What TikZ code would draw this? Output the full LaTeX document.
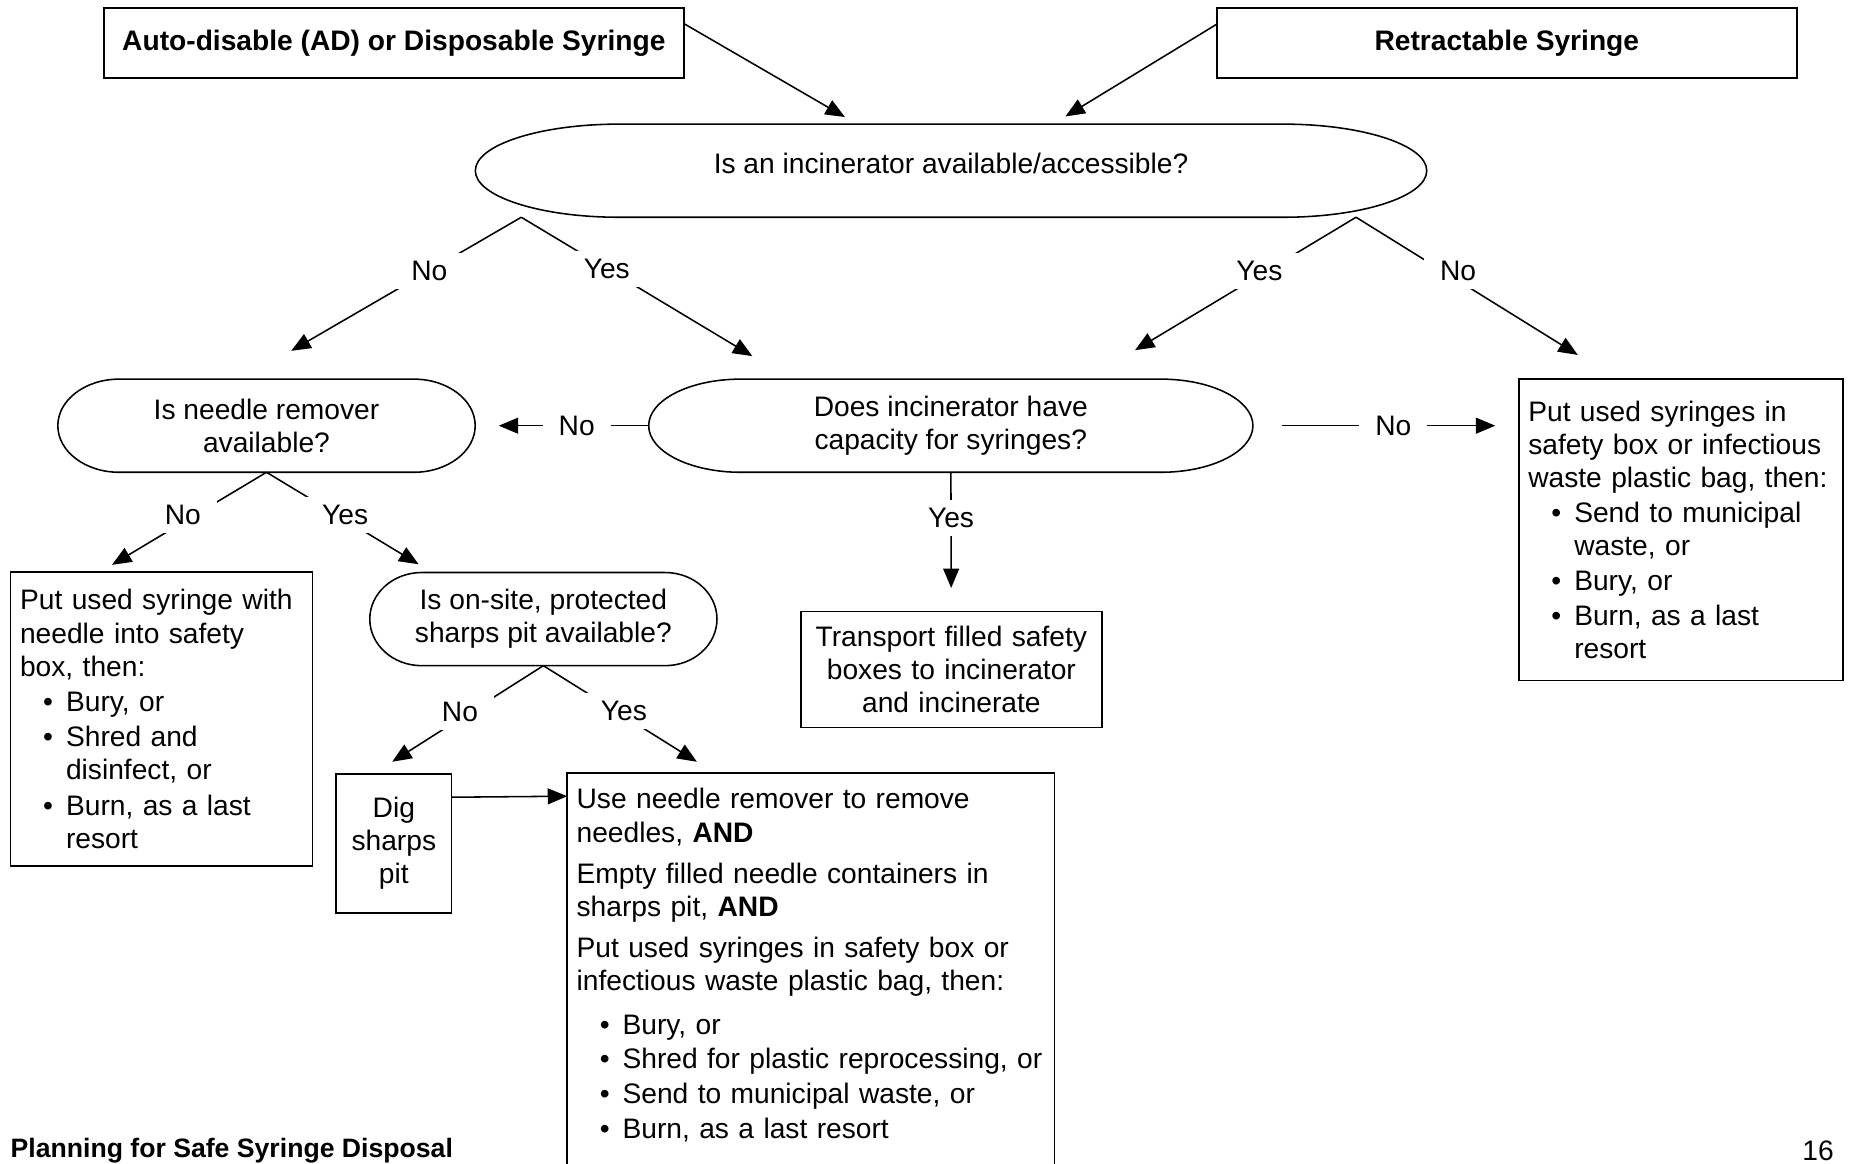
\documentclass[tikz,border=0pt]{standalone}
\usepackage{fontspec}
\setmainfont{Liberation Sans}
\usepackage{tikz}
\usetikzlibrary{arrows.meta, positioning, calc}

\newcommand{\bitem}{\hspace*{0.78cm}\llap{\textbullet\hspace{0.22cm}}}
\newcommand{\bcont}{\hspace*{0.78cm}}

\begin{document}
\begin{tikzpicture}[x=0.02cm, y=-0.02cm, line width=0.75pt,
    every node/.style={font=\fontsize{13.6}{15.94}\selectfont, outer sep=0pt},
    box/.style={draw, inner xsep=0.16cm, inner ysep=0pt},
    term/.style={minimum height=1.58cm, align=center, inner sep=0pt},
    ans/.style={fill=white, inner xsep=0.27cm, inner ysep=0.14cm},
    arr/.style={-{Triangle[length=0.33cm, width=0.27cm]}}]
  \useasboundingbox (0,0) rectangle (1568,987);

  % syringe types
  \node[box, minimum width=9.84cm, minimum height=1.18cm,
        font=\fontsize{13.6}{15.94}\selectfont\bfseries] (ad) at (334,36.5)
        {Auto-disable (AD) or Disposable Syringe};
  \node[box, minimum width=9.84cm, minimum height=1.18cm,
        font=\fontsize{13.6}{15.94}\selectfont\bfseries, right=9.04cm of ad] (ret)
        {Retractable Syringe};

  % questions
  \node[term, minimum width=16.14cm, text height=0.35cm, text depth=0.27cm]
        (inc) at (806.5,144.75) {Is an incinerator available/accessible?};
  \node[term, minimum width=7.08cm] (needle) at (226,361) {Is needle remover\\available?};
  \node[term, minimum width=10.25cm] (cap) at (806.3,361) {Does incinerator have\\capacity for syringes?};
  \node[term, minimum width=5.89cm] (onsite) at (460.8,525) {Is on-site, protected\\sharps pit available?};
  \foreach \n/\r in {inc/2.44, needle/1.04, cap/1.56, onsite/0.88}
    \draw ([xshift=\r cm]\n.north west) -- ([xshift=-\r cm]\n.north east)
      arc[start angle=90, end angle=-90, x radius=\r cm, y radius=0.79cm]
      -- ([xshift=\r cm]\n.south west)
      arc[start angle=270, end angle=90, x radius=\r cm, y radius=0.79cm] -- cycle;

  % actions
  \node[box, minimum height=4.99cm, text width=4.8cm, align=left] (withneedle) at (137,609.75)
    {Put used syringe with\\needle into safety\\box, then:\\[0.04cm]
     \bitem Bury, or\\[0.04cm]
     \bitem Shred and\\\bcont disinfect, or\\[0.04cm]
     \bitem Burn, as a last\\\bcont resort};
  \node[box, minimum height=5.11cm, text width=5.18cm, align=left] (nocap) at (1425.5,449.25)
    {Put used syringes in\\safety box or infectious\\waste plastic bag, then:\\[0.03cm]
     \bitem Send to municipal\\\bcont waste, or\\[0.03cm]
     \bitem Bury, or\\[0.03cm]
     \bitem Burn, as a last\\\bcont resort};
  \node[box, minimum height=1.97cm, text width=4.79cm, align=center] (transport) at (806.8,567.85)
    {Transport filled safety\\boxes to incinerator\\and incinerate};
  \node[box, minimum height=2.35cm, text width=1.64cm, align=center] (dig) at (334,715.3)
    {Dig\\sharps\\pit};
  \node[inner xsep=0.16cm, inner ysep=0pt, minimum height=6.51cm, text width=7.95cm,
        align=left, anchor=north west] (remover) at (481,655.7)
    {Use needle remover to remove\\needles, \textbf{AND}\\[0.14cm]
     Empty filled needle containers in\\sharps pit, \textbf{AND}\\[0.14cm]
     Put used syringes in safety box or\\infectious waste plastic bag, then:\\[0.18cm]
     \bitem Bury, or\\[0.02cm]
     \bitem Shred for plastic reprocessing, or\\[0.04cm]
     \bitem Send to municipal waste, or\\[0.02cm]
     \bitem Burn, as a last resort};
  \coordinate (pagebot) at (0,987);
  \draw (remover.north west |- pagebot) -- (remover.north west)
    -- (remover.north east) -- (remover.north east |- pagebot);

  % footer
  \node[anchor=base west, inner sep=0pt, font=\fontsize{12.85}{15}\selectfont\bfseries]
    (footer) at (9,981.7) {Planning for Safe Syringe Disposal};
  \node[anchor=base east, inner sep=0pt] (pagenum) at (1555,984) {16};

  % connectors
  \draw[arr] ([yshift=-0.26cm]ad.north east) -- ([xshift=-1.8cm, yshift=0.12cm]inc.north);
  \draw[arr] ([yshift=-0.27cm]ret.north west) -- ([xshift=1.94cm, yshift=0.13cm]inc.north);

  \coordinate (incL) at ([xshift=0.78cm]inc.south west);
  \coordinate (incR) at ([xshift=-1.2cm]inc.south east);
  \coordinate (t1) at (247,297.5);
  \coordinate (t2) at (638,302);
  \coordinate (t3) at (962.5,297);
  \coordinate (t4) at (1338,301);
  \coordinate (t5) at (95,479);
  \coordinate (t6) at (355,478.5);
  \coordinate (t7) at (332.6,646);
  \coordinate (t8) at (591,646);

  \draw[arr] (incL) -- node[ans, pos=0.4] {No} (t1);
  \draw[arr] (incL) -- node[ans, pos=0.37] {Yes} (t2);
  \draw[arr] (incR) -- node[ans, pos=0.437, yshift=0.08cm] {Yes} (t3);
  \draw[arr] (incR) -- node[ans, pos=0.46, yshift=0.16cm] {No} (t4);

  \draw[arr, shorten >=0.4cm] (cap.west) -- node[ans, pos=0.415] {No} (needle.east);
  \draw[arr, shorten <=0.49cm, shorten >=0.4cm] (cap.east)
    -- node[ans, pos=0.528] {No} (cap.east -| nocap.west);
  \draw[arr, shorten >=0.4cm] (cap) -- node[ans, pos=0.33] {Yes} (transport);

  \draw[arr] (needle.south) -- node[ans, pos=0.542, yshift=0.12cm] {No} (t5);
  \draw[arr] (needle.south) -- node[ans, pos=0.517, yshift=0.08cm] {Yes} (t6);

  \draw[arr] (onsite.south) -- node[ans, pos=0.552, yshift=0.12cm] {No} (t7);
  \draw[arr] (onsite.south) -- node[ans, pos=0.524, yshift=0.09cm] {Yes} (t8);

  \draw[arr] ([yshift=-0.39cm]dig.north east) -- ([yshift=-0.39cm]remover.north west);
\end{tikzpicture}
\end{document}
